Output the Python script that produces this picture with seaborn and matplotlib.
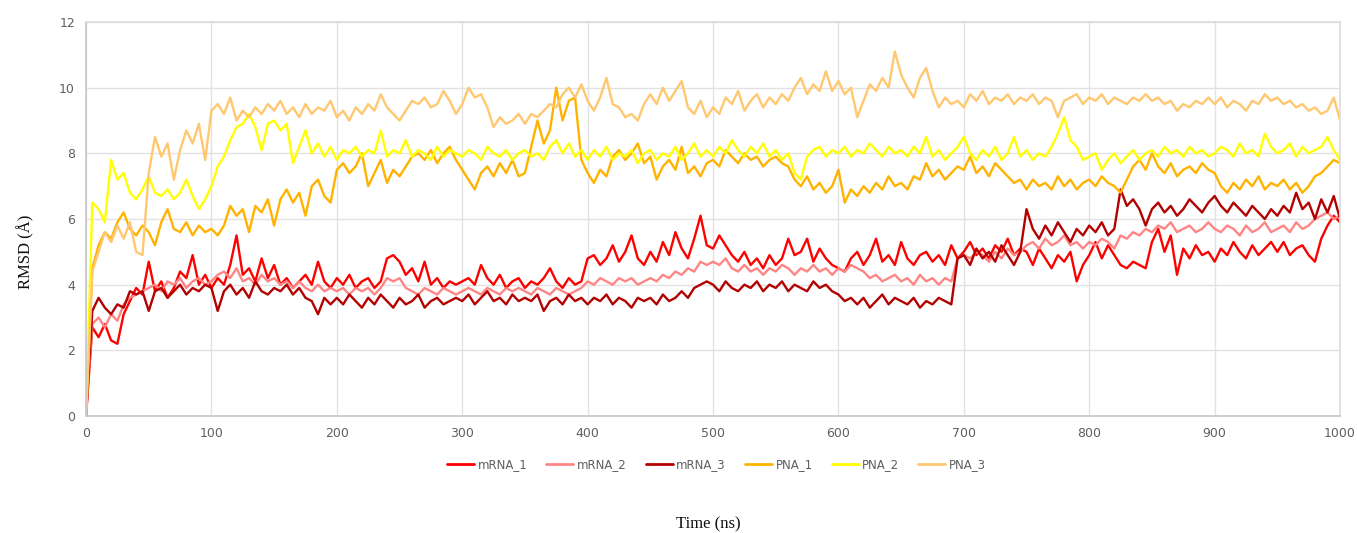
import numpy as np
import pandas as pd
import matplotlib
matplotlib.use("Agg")
import matplotlib.pyplot as plt
import seaborn as sns
from matplotlib.lines import Line2D

# time axis, one sample every 5 ns
time_ns = np.arange(0, 1001, 5)

mrna_1 = [0.0, 2.7, 2.4, 2.8, 2.3, 2.2, 3.1, 3.5, 3.9, 3.7,
          4.7, 3.8, 4.1, 3.6, 3.9, 4.4, 4.2, 4.9, 4.0, 4.3,
          3.9, 4.2, 4.0, 4.6, 5.5, 4.3, 4.5, 4.1, 4.8, 4.2,
          4.6, 4.0, 4.2, 3.9, 4.1, 4.3, 4.0, 4.7, 4.1, 3.9,
          4.2, 4.0, 4.3, 3.9, 4.1, 4.2, 3.9, 4.1, 4.8, 4.9,
          4.7, 4.3, 4.5, 4.1, 4.7, 4.0, 4.2, 3.9, 4.1, 4.0,
          4.1, 4.2, 4.0, 4.6, 4.2, 4.0, 4.3, 3.9, 4.1, 4.2,
          3.9, 4.1, 4.0, 4.2, 4.5, 4.1, 3.9, 4.2, 4.0, 4.1,
          4.8, 4.9, 4.6, 4.8, 5.2, 4.7, 5.0, 5.5, 4.8, 4.6,
          5.0, 4.7, 5.3, 4.9, 5.6, 5.1, 4.8, 5.4, 6.1, 5.2,
          5.1, 5.5, 5.2, 4.9, 4.7, 5.0, 4.6, 4.8, 4.5, 4.9,
          4.6, 4.8, 5.4, 4.9, 5.0, 5.4, 4.7, 5.1, 4.8, 4.6,
          4.5, 4.4, 4.8, 5.0, 4.6, 4.9, 5.4, 4.7, 4.9, 4.6,
          5.3, 4.8, 4.6, 4.9, 5.0, 4.7, 4.9, 4.6, 5.2, 4.8,
          5.0, 5.3, 4.9, 5.1, 4.8, 5.2, 5.0, 5.4, 4.9, 5.1,
          5.0, 4.6, 5.1, 4.8, 4.5, 4.9, 4.7, 5.0, 4.1, 4.6,
          4.9, 5.3, 4.8, 5.2, 4.9, 4.6, 4.5, 4.7, 4.6, 4.5,
          5.3, 5.7, 5.0, 5.5, 4.3, 5.1, 4.8, 5.2, 4.9, 5.0,
          4.7, 5.1, 4.9, 5.3, 5.0, 4.8, 5.2, 4.9, 5.1, 5.3,
          5.0, 5.3, 4.9, 5.1, 5.2, 4.9, 4.7, 5.4, 5.8, 6.1,
          5.9]

mrna_2 = [0.0, 2.8, 3.0, 2.7, 3.1, 2.9, 3.4, 3.6, 3.7, 3.8,
          3.9, 4.0, 3.8, 4.1, 4.0, 4.2, 3.9, 4.1, 4.2, 4.0,
          4.1, 4.3, 4.4, 4.2, 4.5, 4.1, 4.2, 4.0, 4.3, 4.1,
          4.2, 4.0, 4.1, 3.9, 4.1, 3.9, 3.8, 4.0, 3.8, 3.9,
          3.8, 3.9, 3.7, 3.9, 3.8, 3.9, 3.7, 3.9, 4.2, 4.1,
          4.2, 3.9, 3.8, 3.7, 3.9, 3.8, 3.7, 3.9, 3.8, 3.7,
          3.8, 3.9, 3.8, 3.7, 3.9, 3.8, 3.7, 3.9, 3.8, 3.9,
          3.8, 3.7, 3.9, 3.8, 3.7, 3.9, 3.8, 3.7, 3.8, 3.9,
          4.1, 4.0, 4.2, 4.1, 4.0, 4.2, 4.1, 4.2, 4.0, 4.1,
          4.2, 4.1, 4.3, 4.2, 4.4, 4.3, 4.5, 4.4, 4.7, 4.6,
          4.7, 4.6, 4.8, 4.5, 4.4, 4.6, 4.4, 4.5, 4.3, 4.5,
          4.4, 4.6, 4.5, 4.3, 4.5, 4.4, 4.6, 4.4, 4.5, 4.3,
          4.5, 4.4, 4.6, 4.5, 4.4, 4.2, 4.3, 4.1, 4.2, 4.3,
          4.1, 4.2, 4.0, 4.3, 4.1, 4.2, 4.0, 4.2, 4.1, 4.8,
          4.9, 4.8, 5.0, 4.9, 4.7, 5.0, 4.8, 5.1, 4.9, 5.0,
          5.2, 5.3, 5.1, 5.4, 5.2, 5.3, 5.5, 5.2, 5.3, 5.1,
          5.3, 5.2, 5.4, 5.3, 5.1, 5.5, 5.4, 5.6, 5.5, 5.7,
          5.6, 5.8, 5.7, 5.9, 5.6, 5.7, 5.8, 5.6, 5.7, 5.9,
          5.7, 5.6, 5.8, 5.7, 5.5, 5.8, 5.6, 5.7, 5.9, 5.6,
          5.7, 5.8, 5.6, 5.9, 5.7, 5.8, 6.0, 6.1, 6.2, 6.0,
          6.1]

mrna_3 = [0.0, 3.2, 3.6, 3.3, 3.1, 3.4, 3.3, 3.8, 3.7, 3.8,
          3.2, 3.8, 3.9, 3.6, 3.8, 4.0, 3.7, 3.9, 3.8, 4.0,
          3.9, 3.2, 3.8, 4.0, 3.7, 3.9, 3.6, 4.1, 3.8, 3.7,
          3.9, 3.8, 4.0, 3.7, 3.9, 3.6, 3.5, 3.1, 3.6, 3.4,
          3.6, 3.4, 3.7, 3.5, 3.3, 3.6, 3.4, 3.7, 3.5, 3.3,
          3.6, 3.4, 3.5, 3.7, 3.3, 3.5, 3.6, 3.4, 3.5, 3.6,
          3.5, 3.7, 3.4, 3.6, 3.8, 3.5, 3.6, 3.4, 3.7, 3.5,
          3.6, 3.5, 3.7, 3.2, 3.5, 3.6, 3.4, 3.7, 3.5, 3.6,
          3.4, 3.6, 3.5, 3.7, 3.4, 3.6, 3.5, 3.3, 3.6, 3.5,
          3.6, 3.4, 3.7, 3.5, 3.6, 3.8, 3.6, 3.9, 4.0, 4.1,
          4.0, 3.8, 4.1, 3.9, 3.8, 4.0, 3.9, 4.1, 3.8, 4.0,
          3.9, 4.1, 3.8, 4.0, 3.9, 3.8, 4.1, 3.9, 4.0, 3.8,
          3.7, 3.5, 3.6, 3.4, 3.6, 3.3, 3.5, 3.7, 3.4, 3.6,
          3.5, 3.4, 3.6, 3.3, 3.5, 3.4, 3.6, 3.5, 3.4, 4.8,
          4.9, 4.6, 5.1, 4.8, 5.0, 4.7, 5.2, 4.9, 4.6, 5.0,
          6.3, 5.7, 5.4, 5.8, 5.5, 5.9, 5.6, 5.3, 5.7, 5.5,
          5.8, 5.6, 5.9, 5.5, 5.7, 6.9, 6.4, 6.6, 6.3, 5.8,
          6.3, 6.5, 6.2, 6.4, 6.1, 6.3, 6.6, 6.4, 6.2, 6.5,
          6.7, 6.4, 6.2, 6.5, 6.3, 6.1, 6.4, 6.2, 6.0, 6.3,
          6.1, 6.4, 6.2, 6.8, 6.3, 6.5, 6.0, 6.6, 6.2, 6.7,
          6.0]

pna_1 = [0.0, 4.5, 5.2, 5.6, 5.4, 5.9, 6.2, 5.7, 5.5, 5.8,
         5.6, 5.2, 5.9, 6.3, 5.7, 5.6, 5.9, 5.5, 5.8, 5.6,
         5.7, 5.5, 5.8, 6.4, 6.1, 6.3, 5.6, 6.4, 6.2, 6.6,
         5.8, 6.6, 6.9, 6.5, 6.8, 6.1, 7.0, 7.2, 6.7, 6.5,
         7.5, 7.7, 7.4, 7.6, 8.0, 7.0, 7.4, 7.8, 7.1, 7.5,
         7.3, 7.6, 7.9, 8.0, 7.8, 8.1, 7.7, 8.0, 8.2, 7.8,
         7.5, 7.2, 6.9, 7.4, 7.6, 7.3, 7.7, 7.4, 7.8, 7.3,
         7.4, 8.2, 9.0, 8.3, 8.7, 10.0, 9.0, 9.6, 9.7, 7.8,
         7.4, 7.1, 7.5, 7.3, 7.9, 8.1, 7.8, 8.0, 8.3, 7.7,
         7.9, 7.2, 7.6, 7.8, 7.5, 8.2, 7.4, 7.6, 7.3, 7.7,
         7.8, 7.6, 8.1, 7.9, 7.7, 8.0, 7.8, 7.9, 7.6, 7.8,
         7.9, 7.7, 7.6, 7.2, 7.0, 7.3, 6.9, 7.1, 6.8, 7.0,
         7.5, 6.5, 6.9, 6.7, 7.0, 6.8, 7.1, 6.9, 7.3, 7.0,
         7.1, 6.9, 7.3, 7.2, 7.7, 7.3, 7.5, 7.2, 7.4, 7.6,
         7.5, 7.9, 7.4, 7.6, 7.3, 7.7, 7.5, 7.3, 7.1, 7.2,
         6.9, 7.2, 7.0, 7.1, 6.9, 7.3, 7.0, 7.2, 6.9, 7.1,
         7.2, 7.0, 7.3, 7.1, 7.0, 6.8, 7.2, 7.6, 7.8, 7.5,
         8.0, 7.6, 7.4, 7.7, 7.3, 7.5, 7.6, 7.4, 7.7, 7.5,
         7.4, 7.0, 6.8, 7.1, 6.9, 7.2, 7.0, 7.3, 6.9, 7.1,
         7.0, 7.2, 6.9, 7.1, 6.8, 7.0, 7.3, 7.4, 7.6, 7.8,
         7.7]

pna_2 = [0.0, 6.5, 6.3, 5.9, 7.8, 7.2, 7.4, 6.8, 6.6, 6.9,
         7.3, 6.8, 6.7, 6.9, 6.6, 6.8, 7.2, 6.7, 6.3, 6.6,
         7.0, 7.6, 7.9, 8.4, 8.8, 8.9, 9.2, 8.8, 8.1, 8.9,
         9.0, 8.7, 8.9, 7.7, 8.2, 8.7, 8.0, 8.3, 7.9, 8.2,
         7.8, 8.1, 8.0, 8.2, 7.9, 8.1, 8.0, 8.7, 7.9, 8.1,
         8.0, 8.4, 7.9, 8.1, 8.0, 7.8, 8.2, 7.9, 8.1, 8.0,
         7.9, 8.1, 8.0, 7.8, 8.2, 8.0, 7.9, 8.1, 7.8, 8.0,
         8.1, 7.9, 8.0, 7.8, 8.2, 8.4, 8.0, 8.3, 7.9, 8.1,
         7.8, 8.1, 7.9, 8.2, 7.8, 8.0, 7.9, 8.1, 7.7, 8.0,
         8.1, 7.8, 8.0, 7.9, 8.2, 7.8, 8.0, 8.3, 7.9, 8.1,
         7.9, 8.2, 8.0, 8.4, 8.1, 7.9, 8.2, 8.0, 8.3, 7.9,
         8.1, 7.8, 8.0, 7.4, 7.2, 7.9, 8.1, 8.2, 7.9, 8.1,
         8.0, 8.2, 7.9, 8.1, 8.0, 8.3, 8.1, 7.9, 8.2, 8.0,
         8.1, 7.9, 8.2, 8.0, 8.5, 7.9, 8.1, 7.8, 8.0, 8.2,
         8.5, 8.0, 7.8, 8.1, 7.9, 8.2, 7.8, 8.0, 8.5, 7.9,
         8.1, 7.8, 8.0, 7.9, 8.2, 8.6, 9.1, 8.4, 8.2, 7.8,
         7.9, 8.0, 7.5, 7.8, 8.0, 7.7, 7.9, 8.1, 7.8, 8.0,
         8.1, 7.9, 8.2, 8.0, 8.1, 7.9, 8.2, 8.0, 8.1, 7.9,
         8.0, 8.2, 8.1, 7.9, 8.3, 8.0, 8.1, 7.9, 8.6, 8.2,
         8.0, 8.1, 8.3, 7.9, 8.2, 8.0, 8.1, 8.2, 8.5, 8.1,
         7.8]

pna_3 = [0.0, 4.4, 5.0, 5.6, 5.3, 5.8, 5.4, 5.9, 5.0, 4.9,
         7.4, 8.5, 7.9, 8.3, 7.2, 8.1, 8.7, 8.3, 8.9, 7.8,
         9.3, 9.5, 9.2, 9.7, 9.0, 9.3, 9.1, 9.4, 9.2, 9.5,
         9.3, 9.6, 9.2, 9.4, 9.1, 9.5, 9.2, 9.4, 9.3, 9.6,
         9.1, 9.3, 9.0, 9.4, 9.2, 9.5, 9.3, 9.8, 9.4, 9.2,
         9.0, 9.3, 9.6, 9.5, 9.7, 9.4, 9.5, 9.9, 9.6, 9.2,
         9.5, 10.0, 9.7, 9.8, 9.4, 8.8, 9.1, 8.9, 9.0, 9.2,
         8.9, 9.2, 9.1, 9.3, 9.5, 9.4, 9.8, 10.0, 9.7, 10.1,
         9.6, 9.3, 9.7, 10.3, 9.5, 9.4, 9.1, 9.2, 9.0, 9.5,
         9.8, 9.5, 10.0, 9.6, 9.9, 10.2, 9.4, 9.2, 9.6, 9.1,
         9.4, 9.2, 9.7, 9.5, 9.9, 9.3, 9.6, 9.8, 9.4, 9.7,
         9.5, 9.8, 9.6, 10.0, 10.3, 9.8, 10.1, 9.9, 10.5, 9.9,
         10.2, 9.8, 10.0, 9.1, 9.6, 10.1, 9.9, 10.3, 10.0, 11.1,
         10.4, 10.0, 9.7, 10.3, 10.6, 9.9, 9.4, 9.7, 9.5, 9.6,
         9.4, 9.8, 9.6, 9.9, 9.5, 9.7, 9.6, 9.8, 9.5, 9.7,
         9.6, 9.8, 9.5, 9.7, 9.6, 9.1, 9.6, 9.7, 9.8, 9.5,
         9.7, 9.6, 9.8, 9.5, 9.7, 9.6, 9.5, 9.7, 9.6, 9.8,
         9.6, 9.7, 9.5, 9.6, 9.3, 9.5, 9.4, 9.6, 9.5, 9.7,
         9.5, 9.7, 9.4, 9.6, 9.5, 9.3, 9.6, 9.5, 9.8, 9.6,
         9.7, 9.5, 9.6, 9.4, 9.5, 9.3, 9.4, 9.2, 9.3, 9.7,
         9.0]

series_names = ["mRNA_1", "mRNA_2", "mRNA_3", "PNA_1", "PNA_2", "PNA_3"]
series_values = [mrna_1, mrna_2, mrna_3, pna_1, pna_2, pna_3]
series_colors = ["#ff0000", "#ff8585", "#b30000", "#ffb300", "#ffff00", "#ffc870"]

frames = []
for name, vals in zip(series_names, series_values):
    frames.append(pd.DataFrame({"time": time_ns, "rmsd": vals, "series": name}))
df = pd.concat(frames, ignore_index=True)

sns.set_theme(style="white")
plt.rcParams['font.family'] = ['DejaVu Sans']

fig = plt.figure(figsize=(13.57, 5.33), dpi=100)
ax = fig.add_axes([0.0634, 0.2195, 0.9241, 0.7392])

palette = dict(zip(series_names, series_colors))
sns.lineplot(data=df, x="time", y="rmsd", hue="series", palette=palette,
             linewidth=1.7, estimator=None, legend=False, ax=ax)

ax.set_xlim(0, 1000)
ax.set_ylim(0, 12)
ax.set_xticks(range(0, 1001, 100))
ax.set_yticks(range(0, 13, 2))
ax.grid(True, color="#e2e2e2", linewidth=1)
ax.set_axisbelow(True)
for sp in ax.spines.values():
    sp.set_color("#dddddd")
ax.spines["left"].set_color("#c8c8c8")
ax.spines["bottom"].set_color("#c8c8c8")
ax.tick_params(axis="both", length=0, labelsize=9, labelcolor="#5f5f5f", pad=8)
ax.set_xlabel("")
ax.set_ylabel("")

fig.text(0.019, 0.527, "RMSD (Å)", rotation=90, ha="center", va="center",
         fontsize=12, family="Liberation Serif", color="#111111")
fig.text(0.522, 0.017, "Time (ns)", ha="center", va="center",
         fontsize=12, family="Liberation Serif", color="#111111")

handles = [Line2D([0], [0], color=c, lw=2) for c in series_colors]
leg = fig.legend(handles, series_names, loc="center", bbox_to_anchor=(0.528, 0.129),
                 ncol=6, frameon=False, fontsize=8.5, handlelength=2.3,
                 handletextpad=0.3, columnspacing=1.6)
for txt in leg.get_texts():
    txt.set_color("#5f5f5f")

fig.savefig("out.png", dpi=100)
